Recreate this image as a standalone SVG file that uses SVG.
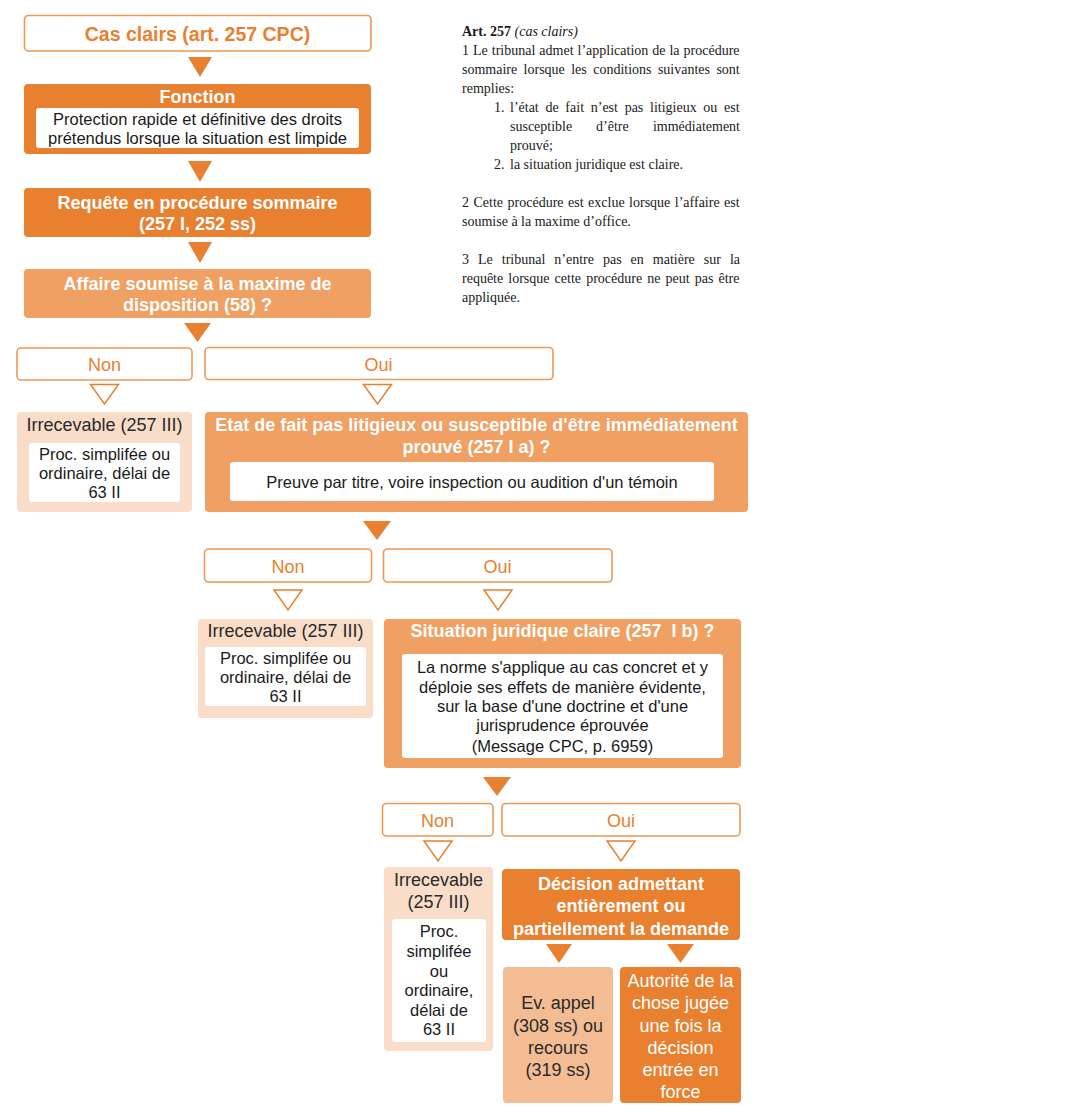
<svg xmlns="http://www.w3.org/2000/svg" width="1076" height="1117" viewBox="0 0 1076 1117">
<style>
text{font-family:"Liberation Sans",Arial,sans-serif}
.dark{fill:#E8802F}
.mid{fill:#EFA062}
.light{fill:#F9DDC8}
.peach{fill:#F3BC93}
.white{fill:#FFFFFF}
.outline{fill:#FFFFFF;stroke:#EE9854;stroke-width:1.6}
.tb{font-weight:bold;font-size:18px;fill:#FFFFFF;text-anchor:middle}
.tw{font-size:18px;fill:#FFFFFF;text-anchor:middle}
.lbl{font-size:18px;fill:#E8802F;text-anchor:middle}
.td{font-size:18px;fill:#2A2A2A;text-anchor:middle}
.ts{font-size:16.5px;fill:#1A1A1A;text-anchor:middle}
.arr{fill:#E8802F}
.harr{fill:#FFFFFF;stroke:#E8802F;stroke-width:1.5;stroke-linejoin:miter}
.law{font-family:"Liberation Serif","Times New Roman",serif;font-size:14px;fill:#1A1A1A}
</style>
<rect x="0" y="0" width="1076" height="1117" fill="#FFFFFF"/>

<g id="connectors">
<polygon class="arr" points="188,57 212,57 200,77"/>
<polygon class="arr" points="188,161 212,161 200,182"/>
<polygon class="arr" points="188,242 212,242 200,263"/>
<polygon class="arr" points="184,323 211,323 197.5,342"/>
<polygon class="harr" points="90.5,384.5 118.5,384.5 104.5,404"/>
<polygon class="harr" points="363.5,384.5 391.5,384.5 377.5,404"/>
<polygon class="arr" points="363,521 391,521 377,540"/>
<polygon class="harr" points="274,590 302,590 288,610"/>
<polygon class="harr" points="484,590 512,590 498,610"/>
<polygon class="arr" points="483,777 511,777 497,796"/>
<polygon class="harr" points="424,841 452,841 438,861"/>
<polygon class="harr" points="607,841 635,841 621,861"/>
<polygon class="arr" points="546,944 572,944 559,963"/>
<polygon class="arr" points="667,944 694,944 680.5,963"/>
</g>

<g id="cas-clairs">
<rect class="outline" x="24.5" y="15.5" width="346.5" height="35.5" rx="4"/>
<text x="197.5" y="41" style="font-weight:bold;font-size:19.5px;fill:#E8802F;text-anchor:middle">Cas clairs (art. 257 CPC)</text>
</g>

<g id="fonction">
<rect class="dark" x="24" y="84" width="347" height="70" rx="4"/>
<text class="tb" x="197.5" y="102.5">Fonction</text>
<rect class="white" x="36" y="108" width="323" height="40" rx="3"/>
<text class="ts" x="197.5" y="125">Protection rapide et définitive des droits</text>
<text class="ts" x="197.5" y="143.5">prétendus lorsque la situation est limpide</text>
</g>

<g id="requete">
<rect class="dark" x="24" y="188" width="347" height="49" rx="4"/>
<text class="tb" x="197.5" y="209">Requête en procédure sommaire</text>
<text class="tb" x="197.5" y="230">(257 I, 252 ss)</text>
</g>

<g id="affaire">
<rect class="mid" x="24" y="269" width="347" height="49" rx="4"/>
<text class="tb" x="197.5" y="290">Affaire soumise à la maxime de</text>
<text class="tb" x="197.5" y="311">disposition (58) ?</text>
</g>

<g id="non1">
<rect class="outline" x="17" y="348" width="175" height="32" rx="4"/>
<text class="lbl" x="104.5" y="371">Non</text>
</g>
<g id="oui1">
<rect class="outline" x="205" y="347.5" width="348" height="32" rx="4"/>
<text class="lbl" x="378.5" y="371">Oui</text>
</g>

<g id="irrecevable1">
<rect class="light" x="17" y="412" width="175" height="100" rx="4"/>
<text class="td" x="104.5" y="431">Irrecevable (257 III)</text>
<rect class="white" x="29" y="443" width="151" height="59" rx="3"/>
<text class="ts" x="104.5" y="460">Proc. simplifée ou</text>
<text class="ts" x="104.5" y="479">ordinaire, délai de</text>
<text class="ts" x="104.5" y="498">63 II</text>
</g>

<g id="etat-de-fait">
<rect class="mid" x="205" y="412" width="543" height="100" rx="4"/>
<text class="tb" x="476.5" y="431">Etat de fait pas litigieux ou susceptible d'être immédiatement</text>
<text class="tb" x="476.5" y="453">prouvé (257 I a) ?</text>
<rect class="white" x="230" y="462" width="484" height="39" rx="3"/>
<text class="ts" x="472" y="487.5">Preuve par titre, voire inspection ou audition d'un témoin</text>
</g>

<g id="non2">
<rect class="outline" x="204.5" y="549" width="167" height="33" rx="4"/>
<text class="lbl" x="288" y="573">Non</text>
</g>
<g id="oui2">
<rect class="outline" x="383.5" y="549" width="228.5" height="33" rx="4"/>
<text class="lbl" x="497.5" y="573">Oui</text>
</g>

<g id="irrecevable2">
<rect class="light" x="198" y="619" width="175" height="99" rx="4"/>
<text class="td" x="285.5" y="637">Irrecevable (257 III)</text>
<rect class="white" x="205" y="647" width="161" height="59" rx="3"/>
<text class="ts" x="285.5" y="664">Proc. simplifée ou</text>
<text class="ts" x="285.5" y="683">ordinaire, délai de</text>
<text class="ts" x="285.5" y="702">63 II</text>
</g>

<g id="situation-juridique">
<rect class="mid" x="384" y="619" width="357" height="149" rx="4"/>
<text class="tb" x="562.5" y="636.5">Situation juridique claire (257&#160; I b) ?</text>
<rect class="white" x="402" y="654" width="321" height="104" rx="3"/>
<text class="ts" x="562.5" y="673">La norme s'applique au cas concret et y</text>
<text class="ts" x="562.5" y="693">déploie ses effets de manière évidente,</text>
<text class="ts" x="562.5" y="712">sur la base d'une doctrine et d'une</text>
<text class="ts" x="562.5" y="731">jurisprudence éprouvée</text>
<text class="ts" x="562.5" y="751.5">(Message CPC, p. 6959)</text>
</g>

<g id="non3">
<rect class="outline" x="382.5" y="803.5" width="110.5" height="32.5" rx="4"/>
<text class="lbl" x="437.5" y="827">Non</text>
</g>
<g id="oui3">
<rect class="outline" x="502" y="803.5" width="238" height="32.5" rx="4"/>
<text class="lbl" x="621" y="827">Oui</text>
</g>

<g id="irrecevable3">
<rect class="light" x="384" y="867" width="109" height="184" rx="4"/>
<text class="td" x="438.5" y="886">Irrecevable</text>
<text class="td" x="438.5" y="908">(257 III)</text>
<rect class="white" x="392" y="919" width="94" height="123" rx="3"/>
<text class="ts" x="439" y="937">Proc.</text>
<text class="ts" x="439" y="957">simplifée</text>
<text class="ts" x="439" y="977">ou</text>
<text class="ts" x="439" y="996">ordinaire,</text>
<text class="ts" x="439" y="1016">délai de</text>
<text class="ts" x="439" y="1035">63 II</text>
</g>

<g id="decision">
<rect class="dark" x="502" y="869" width="238" height="71" rx="4"/>
<text class="tb" x="621" y="889.5">Décision admettant</text>
<text class="tb" x="621" y="912">entièrement ou</text>
<text class="tb" x="621" y="934.5">partiellement la demande</text>
</g>

<g id="appel">
<rect class="peach" x="503" y="967" width="110" height="136" rx="4"/>
<text class="td" x="558" y="1009">Ev. appel</text>
<text class="td" x="558" y="1031.5">(308 ss) ou</text>
<text class="td" x="558" y="1053.5">recours</text>
<text class="td" x="558" y="1076">(319 ss)</text>
</g>

<g id="autorite">
<rect class="dark" x="620" y="967" width="121" height="136" rx="4"/>
<text class="tw" x="680.5" y="987">Autorité de la</text>
<text class="tw" x="680.5" y="1009">chose jugée</text>
<text class="tw" x="680.5" y="1031.5">une fois la</text>
<text class="tw" x="680.5" y="1053.5">décision</text>
<text class="tw" x="680.5" y="1076">entrée en</text>
<text class="tw" x="680.5" y="1098">force</text>
</g>

<g id="art-257">
<text class="law" x="462" y="36"><tspan font-weight="bold">Art. 257</tspan> <tspan font-style="italic">(cas clairs)</tspan></text>
<text class="law" x="462" y="55" word-spacing="0.5">1 Le tribunal admet l’application de la procédure</text>
<text class="law" x="462" y="74" word-spacing="2.9">sommaire lorsque les conditions suivantes sont</text>
<text class="law" x="462" y="93">remplies:</text>
<text class="law" x="494" y="112">1.</text>
<text class="law" x="510" y="112" word-spacing="3.2">l’état de fait n’est pas litigieux ou est</text>
<text class="law" x="510" y="131">susceptible</text>
<text class="law" x="596" y="131">d’être</text>
<text class="law" x="740" y="131" text-anchor="end">immédiatement</text>
<text class="law" x="510" y="150">prouvé;</text>
<text class="law" x="494" y="169">2.</text>
<text class="law" x="510" y="169">la situation juridique est claire.</text>
<text class="law" x="462" y="207" word-spacing="1.0">2 Cette procédure est exclue lorsque l’affaire est</text>
<text class="law" x="462" y="226">soumise à la maxime d’office.</text>
<text class="law" x="462" y="264" word-spacing="5.5">3 Le tribunal n’entre pas en matière sur la</text>
<text class="law" x="462" y="283" word-spacing="1.6">requête lorsque cette procédure ne peut pas être</text>
<text class="law" x="462" y="302">appliquée.</text>
</g>
</svg>
